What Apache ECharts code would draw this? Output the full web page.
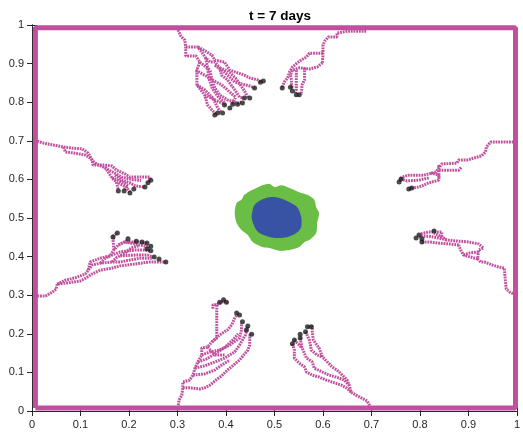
<!DOCTYPE html>
<html>
<head>
<meta charset="utf-8">
<script src="https://cdn.jsdelivr.net/npm/echarts@6/dist/echarts.min.js"></script>
<style>
  html, body { margin: 0; padding: 0; background: #fff; }
  #chart { width: 523px; height: 432px; }
</style>
</head>
<body>
<div id="chart"></div>
<script>
// axis ticks
const ticks = [0, 0.1, 0.2, 0.3, 0.4, 0.5, 0.6, 0.7, 0.8, 0.9, 1];

// domain boundary (vessel wall)
const border = [[0.007, 0.008], [0.007, 0.993], [0.997, 0.993], [0.997, 0.008], [0.007, 0.008]];

// sprout 1: top, left of centre
const sproutTopLeft = [
  [[0.301,0.987],[0.307,0.971],[0.315,0.961],[0.317,0.943],[0.317,0.920],[0.338,0.920],[0.346,0.904],[0.340,0.883],[0.340,0.845],[0.356,0.819],[0.362,0.793],[0.371,0.780],[0.379,0.769]],
  [[0.317,0.943],[0.342,0.943],[0.350,0.930],[0.358,0.915],[0.367,0.904],[0.377,0.904],[0.387,0.889],[0.391,0.870],[0.403,0.858],[0.418,0.832],[0.428,0.813],[0.436,0.811]],
  [[0.342,0.943],[0.354,0.935],[0.371,0.922],[0.377,0.909],[0.397,0.904],[0.408,0.883],[0.438,0.870],[0.449,0.863],[0.465,0.858],[0.473,0.852]],
  [[0.346,0.904],[0.367,0.883],[0.371,0.858],[0.377,0.837],[0.387,0.819],[0.403,0.806],[0.424,0.798],[0.432,0.801]],
  [[0.338,0.883],[0.356,0.870],[0.371,0.858],[0.391,0.845],[0.408,0.826],[0.420,0.813],[0.412,0.795]],
  [[0.356,0.819],[0.377,0.806],[0.391,0.798],[0.399,0.795]],
  [[0.377,0.896],[0.397,0.878],[0.418,0.852],[0.449,0.842],[0.459,0.837]],
  [[0.340,0.845],[0.356,0.832],[0.373,0.811],[0.383,0.785],[0.389,0.775]],
  [[0.358,0.915],[0.362,0.890],[0.365,0.860],[0.372,0.835],[0.385,0.812],[0.397,0.800]],
  [[0.387,0.889],[0.405,0.880],[0.420,0.862],[0.430,0.845],[0.440,0.825],[0.445,0.812]]
];

// sprout 2: top, right of centre
const sproutTopRight = [
  [[0.689,0.984],[0.650,0.984],[0.629,0.979],[0.629,0.969],[0.611,0.969],[0.604,0.959],[0.600,0.948],[0.600,0.922],[0.599,0.902]],
  [[0.600,0.927],[0.572,0.927],[0.566,0.917],[0.555,0.909],[0.547,0.902],[0.537,0.891],[0.531,0.878],[0.527,0.863],[0.520,0.852],[0.516,0.839]],
  [[0.599,0.902],[0.588,0.891],[0.572,0.886],[0.551,0.889],[0.537,0.883],[0.533,0.870],[0.535,0.858],[0.535,0.845],[0.537,0.837]],
  [[0.562,0.889],[0.562,0.858],[0.557,0.845],[0.555,0.819]],
  [[0.545,0.883],[0.545,0.858],[0.545,0.832],[0.543,0.824]]
];

// sprout 3: left, upper
const sproutLeftUpper = [
  [[0.011,0.699],[0.024,0.694],[0.044,0.689],[0.065,0.684],[0.083,0.681],[0.104,0.679],[0.116,0.668],[0.124,0.650],[0.126,0.637],[0.151,0.637],[0.165,0.635],[0.174,0.624],[0.192,0.614],[0.202,0.606],[0.243,0.606],[0.243,0.598],[0.239,0.591]],
  [[0.065,0.684],[0.069,0.671],[0.089,0.668],[0.110,0.663],[0.120,0.655],[0.130,0.642]],
  [[0.151,0.632],[0.157,0.619],[0.165,0.604],[0.174,0.593],[0.178,0.573]],
  [[0.171,0.611],[0.186,0.598],[0.202,0.591],[0.213,0.583],[0.233,0.580]],
  [[0.178,0.591],[0.194,0.580],[0.202,0.567]],
  [[0.165,0.604],[0.190,0.591],[0.198,0.583],[0.190,0.573]],
  [[0.130,0.642],[0.150,0.630],[0.168,0.618],[0.185,0.606],[0.205,0.600],[0.225,0.597]]
];

// sprout 4: right, upper
const sproutRightUpper = [
  [[0.993,0.697],[0.972,0.697],[0.946,0.697],[0.937,0.684],[0.935,0.671],[0.927,0.661],[0.911,0.655],[0.896,0.650],[0.880,0.650],[0.876,0.642],[0.845,0.640],[0.839,0.630],[0.833,0.619],[0.808,0.611],[0.777,0.611],[0.763,0.606],[0.757,0.593]],
  [[0.839,0.624],[0.880,0.624],[0.886,0.632]],
  [[0.822,0.617],[0.839,0.611],[0.839,0.598],[0.818,0.591],[0.798,0.580],[0.783,0.578],[0.777,0.575]],
  [[0.818,0.604],[0.798,0.598],[0.773,0.596],[0.761,0.601]],
  [[0.839,0.637],[0.839,0.604]]
];

// sprout 5: left, lower
const sproutLeftLower = [
  [[0.011,0.298],[0.028,0.298],[0.042,0.308],[0.050,0.316],[0.052,0.329],[0.075,0.332],[0.100,0.337],[0.112,0.345],[0.124,0.355],[0.141,0.365],[0.165,0.370],[0.182,0.376],[0.213,0.381],[0.243,0.386],[0.276,0.386]],
  [[0.052,0.329],[0.069,0.339],[0.089,0.345],[0.110,0.355],[0.116,0.365],[0.124,0.378],[0.141,0.383],[0.165,0.386],[0.182,0.386],[0.202,0.391],[0.223,0.396],[0.247,0.396]],
  [[0.116,0.365],[0.120,0.386],[0.141,0.396],[0.161,0.402],[0.169,0.417],[0.178,0.430],[0.192,0.438],[0.223,0.438],[0.237,0.433]],
  [[0.141,0.383],[0.151,0.396],[0.165,0.404],[0.182,0.412],[0.213,0.417],[0.233,0.417],[0.245,0.415]],
  [[0.169,0.417],[0.167,0.443],[0.169,0.456],[0.176,0.461]],
  [[0.178,0.430],[0.198,0.443]],
  [[0.182,0.402],[0.213,0.404],[0.239,0.404],[0.249,0.399]],
  [[0.192,0.438],[0.213,0.433],[0.233,0.427],[0.243,0.425]],
  [[0.165,0.386],[0.175,0.398],[0.190,0.408],[0.205,0.423],[0.220,0.428]]
];

// sprout 6: right, lower
const sproutRightLower = [
  [[0.997,0.301],[0.985,0.308],[0.978,0.316],[0.976,0.339],[0.974,0.370],[0.962,0.373],[0.950,0.378],[0.933,0.386],[0.925,0.386],[0.919,0.394],[0.921,0.417],[0.931,0.422],[0.921,0.433],[0.900,0.438],[0.880,0.440],[0.855,0.443],[0.845,0.451],[0.829,0.461]],
  [[0.919,0.394],[0.904,0.399],[0.890,0.404],[0.884,0.417],[0.880,0.430]],
  [[0.880,0.430],[0.859,0.433],[0.839,0.435],[0.818,0.438],[0.804,0.438]],
  [[0.855,0.443],[0.839,0.448],[0.818,0.453],[0.798,0.453]],
  [[0.845,0.451],[0.845,0.464],[0.818,0.464],[0.802,0.459]],
  [[0.890,0.404],[0.900,0.409],[0.921,0.412]]
];

// sprout 7: bottom, left of centre
const sproutBottomLeft = [
  [[0.301,0.008],[0.303,0.028],[0.309,0.041],[0.311,0.060],[0.311,0.075],[0.325,0.080],[0.332,0.093],[0.336,0.111],[0.342,0.127],[0.350,0.145],[0.350,0.163],[0.362,0.166],[0.371,0.179],[0.381,0.189],[0.381,0.236],[0.381,0.275],[0.373,0.275],[0.373,0.262]],
  [[0.381,0.275],[0.389,0.280],[0.397,0.285],[0.403,0.280]],
  [[0.311,0.060],[0.325,0.060],[0.346,0.057],[0.356,0.060],[0.367,0.067],[0.379,0.080],[0.391,0.091],[0.403,0.106],[0.428,0.132],[0.445,0.158],[0.449,0.171],[0.449,0.197],[0.453,0.199]],
  [[0.350,0.145],[0.367,0.153],[0.387,0.158],[0.408,0.171],[0.428,0.189],[0.432,0.210],[0.432,0.228]],
  [[0.371,0.179],[0.387,0.197],[0.403,0.210],[0.412,0.223],[0.418,0.241],[0.424,0.251]],
  [[0.336,0.111],[0.356,0.117],[0.377,0.127],[0.397,0.137],[0.418,0.153],[0.428,0.171],[0.440,0.197],[0.445,0.218]],
  [[0.332,0.093],[0.356,0.096],[0.377,0.106],[0.391,0.119],[0.408,0.132]],
  [[0.362,0.166],[0.377,0.145],[0.397,0.145]],
  [[0.342,0.127],[0.360,0.135],[0.380,0.150],[0.398,0.165],[0.415,0.185],[0.425,0.200]]
];

// sprout 8: bottom, right of centre
const sproutBottomRight = [
  [[0.699,0.008],[0.691,0.026],[0.679,0.034],[0.668,0.041],[0.658,0.049],[0.654,0.067],[0.650,0.080],[0.640,0.093],[0.629,0.106],[0.619,0.114],[0.609,0.127],[0.599,0.140],[0.592,0.163],[0.580,0.184],[0.578,0.205],[0.578,0.218],[0.568,0.218]],
  [[0.537,0.174],[0.541,0.158],[0.541,0.137],[0.551,0.124],[0.562,0.114],[0.566,0.101],[0.578,0.093],[0.592,0.088],[0.607,0.080],[0.619,0.075],[0.638,0.067],[0.648,0.060],[0.658,0.049]],
  [[0.553,0.189],[0.557,0.163],[0.566,0.137],[0.578,0.127],[0.582,0.111],[0.599,0.101],[0.613,0.093],[0.627,0.088],[0.644,0.080],[0.654,0.067]],
  [[0.564,0.205],[0.572,0.184],[0.576,0.158],[0.588,0.145],[0.599,0.140]],
  [[0.541,0.184],[0.551,0.171],[0.557,0.163]]
];

// tip cells (black)
const tipCells = [
  [0.477,0.855],[0.471,0.852],[0.459,0.837],[0.449,0.811],[0.438,0.811],[0.434,0.798],[0.424,0.795],[0.414,0.795],[0.397,0.793],[0.408,0.785],[0.393,0.772],[0.383,0.772],[0.377,0.767],
  [0.516,0.837],[0.533,0.839],[0.537,0.829],[0.545,0.819],[0.551,0.819],
  [0.245,0.598],[0.239,0.591],[0.233,0.580],[0.210,0.575],[0.202,0.565],[0.190,0.570],[0.178,0.570],
  [0.757,0.593],[0.761,0.601],[0.777,0.575],[0.783,0.578],
  [0.167,0.451],[0.176,0.461],[0.198,0.446],[0.215,0.440],[0.227,0.438],[0.237,0.435],[0.245,0.427],[0.245,0.415],[0.237,0.420],[0.252,0.399],[0.262,0.394],[0.276,0.386],
  [0.829,0.466],[0.798,0.456],[0.792,0.448],[0.804,0.446],[0.804,0.438],
  [0.387,0.282],[0.395,0.288],[0.401,0.282],[0.422,0.254],[0.428,0.249],[0.434,0.231],[0.445,0.220],[0.442,0.210],[0.453,0.199],
  [0.568,0.218],[0.576,0.218],[0.564,0.205],[0.553,0.199],[0.553,0.189],[0.541,0.184],[0.537,0.174]
];

// tumour: outer (green) and inner (blue) regions
const tumourOuter = [
  [0.422,0.539],[0.432,0.547],[0.438,0.560],[0.455,0.573],[0.475,0.585],[0.490,0.588],[0.500,0.580],[0.514,0.585],[0.531,0.578],[0.551,0.567],[0.568,0.560],[0.582,0.547],[0.586,0.528],[0.592,0.513],
  [0.588,0.487],[0.586,0.461],[0.572,0.443],[0.562,0.438],[0.551,0.425],[0.531,0.417],[0.510,0.415],[0.490,0.422],[0.475,0.425],[0.455,0.438],[0.445,0.456],[0.432,0.469],[0.422,0.487],[0.418,0.513]
];
const tumourInner = [
  [0.455,0.521],[0.459,0.534],[0.473,0.547],[0.490,0.554],[0.510,0.552],[0.531,0.541],[0.547,0.528],[0.555,0.503],
  [0.555,0.477],[0.545,0.461],[0.527,0.451],[0.506,0.448],[0.490,0.451],[0.469,0.461],[0.459,0.477],[0.453,0.500]
];

const vesselColor = '#c0509e';
const axisColor = '#262626';
const font = 'Liberation Sans, Arial, Helvetica, sans-serif';

const chart = echarts.init(document.getElementById('chart'), null, { renderer: 'canvas' });

const allSprouts = [].concat(sproutTopLeft, sproutTopRight, sproutLeftUpper, sproutRightUpper,
  sproutLeftLower, sproutRightLower, sproutBottomLeft, sproutBottomRight);

const vesselSeries = allSprouts.map(function (path) {
  return {
    type: 'line',
    data: path,
    showSymbol: false,
    silent: true,
    z: 3,
    lineStyle: { color: vesselColor, width: 3, type: [1.8, 0.9], cap: 'butt' }
  };
});

function blobSeries(points, color, z) {
  return {
    type: 'custom',
    z: z,
    silent: true,
    data: [[0.5, 0.5]],
    renderItem: function (params, api) {
      return {
        type: 'polygon',
        shape: { points: points.map(function (p) { return api.coord(p); }), smooth: 0.3 },
        style: { fill: color }
      };
    }
  };
}

function axisBase(pos, showLabel) {
  return {
    type: 'value',
    position: pos,
    min: 0,
    max: 1,
    interval: 0.1,
    axisLine: { show: true, lineStyle: { color: axisColor, width: 1 } },
    axisTick: { show: true, inside: true, length: 5, lineStyle: { color: axisColor } },
    splitLine: { show: false },
    axisLabel: { show: showLabel, color: axisColor, fontSize: 11, fontFamily: font, margin: 8 }
  };
}

chart.setOption({
  animation: false,
  backgroundColor: '#ffffff',
  title: {
    text: 't = 7 days',
    left: 275,
    textAlign: 'center',
    top: 4,
    textStyle: { fontSize: 13.5, fontWeight: 'bold', color: '#000', fontFamily: font }
  },
  grid: { left: 32, right: 5, top: 25, bottom: 21 },
  xAxis: [axisBase('bottom', true), axisBase('top', false)],
  yAxis: [axisBase('left', true), axisBase('right', false)],
  series: [
    {
      type: 'line',
      data: border,
      showSymbol: false,
      silent: true,
      z: 2,
      lineStyle: { color: vesselColor, width: 5 }
    }
  ].concat(vesselSeries, [
    blobSeries(tumourOuter, '#6abd45', 4),
    blobSeries(tumourInner, '#3953a4', 5),
    {
      type: 'scatter',
      data: tipCells,
      symbol: 'circle',
      symbolSize: 5,
      silent: true,
      z: 6,
      itemStyle: { color: '#1e1e1e' }
    }
  ])
});
</script>
</body>
</html>
